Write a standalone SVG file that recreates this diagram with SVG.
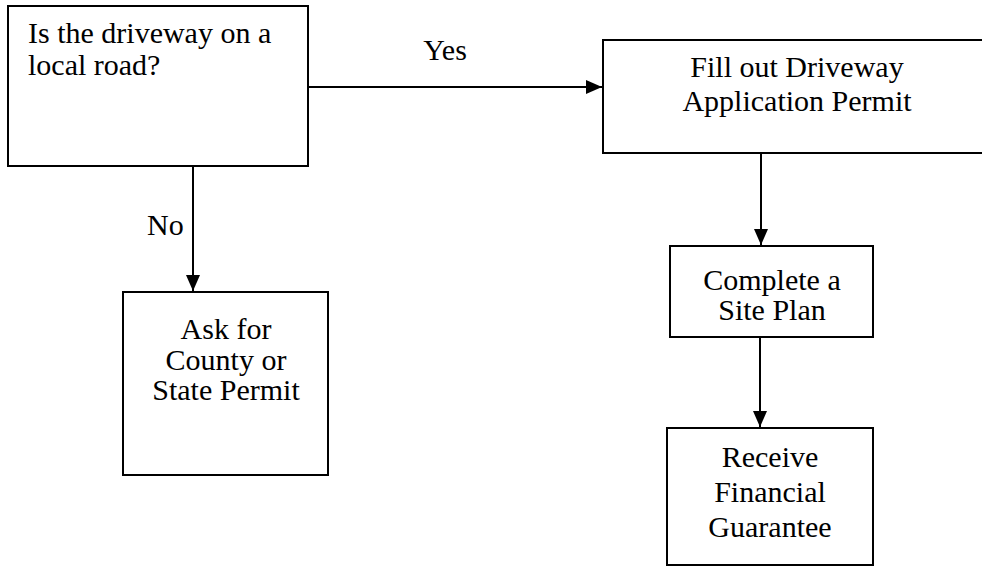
<svg xmlns="http://www.w3.org/2000/svg" width="982" height="566" viewBox="0 0 982 566">
<defs>
<marker id="ah" viewBox="0 0 16 14" refX="16" refY="7" markerWidth="16" markerHeight="14" markerUnits="userSpaceOnUse" orient="auto">
<path d="M0,0 L16,7 L0,14 Z" fill="#000"/>
</marker>
</defs>
<style>
.box{fill:#fff;stroke:#000;stroke-width:2}
.t{font-family:"Liberation Serif","Times New Roman",serif;font-size:30px;fill:#000}
.c{text-anchor:middle}
.ln{stroke:#000;stroke-width:2;fill:none;marker-end:url(#ah)}
</style>
<rect width="982" height="566" fill="#fff"/>
<g id="connectors">
<line class="ln" x1="308" y1="87" x2="602" y2="87"/>
<line class="ln" x1="193" y1="166" x2="193" y2="291"/>
<line class="ln" x1="761" y1="153" x2="761" y2="245"/>
<line class="ln" x1="760" y1="337" x2="760" y2="427"/>
<text class="t c" x="445" y="60">Yes</text>
<text class="t" x="147" y="235">No</text>
</g>
<g id="q-local-road">
<rect class="box" x="8" y="6" width="300" height="160"/>
<text class="t" x="28" y="43">Is the driveway on a</text>
<text class="t" x="28" y="75">local road?</text>
</g>
<g id="fill-application">
<rect class="box" x="603" y="40" width="392" height="113"/>
<text class="t c" x="797" y="77">Fill out Driveway</text>
<text class="t c" x="797" y="111">Application Permit</text>
</g>
<g id="ask-permit">
<rect class="box" x="123" y="292" width="205" height="183"/>
<text class="t c" x="226" y="339">Ask for</text>
<text class="t c" x="226" y="370">County or</text>
<text class="t c" x="226" y="400">State Permit</text>
</g>
<g id="site-plan">
<rect class="box" x="670" y="246" width="203" height="91"/>
<text class="t c" x="772" y="290">Complete a</text>
<text class="t c" x="772" y="320">Site Plan</text>
</g>
<g id="financial-guarantee">
<rect class="box" x="667" y="428" width="206" height="137"/>
<text class="t c" x="770" y="467">Receive</text>
<text class="t c" x="770" y="502">Financial</text>
<text class="t c" x="770" y="537">Guarantee</text>
</g>
</svg>
